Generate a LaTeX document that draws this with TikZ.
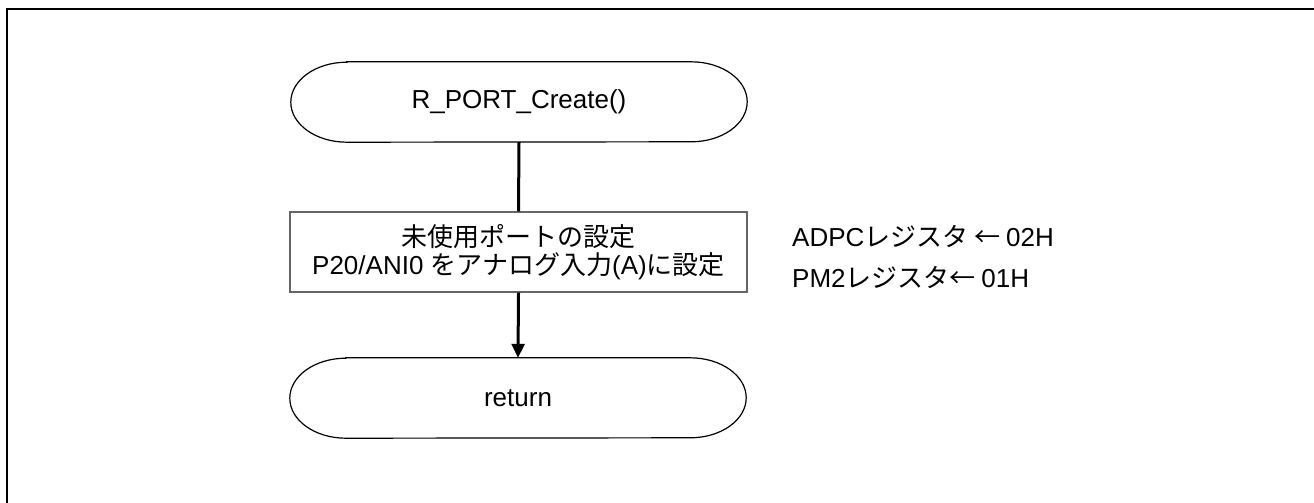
\documentclass[tikz,border=0pt]{standalone}
\usepackage{fontspec}
\setmainfont{Liberation Sans}
\newfontfamily\jp{Noto Sans CJK JP}
\usetikzlibrary{arrows.meta}

\tikzset{
  base/.style={font=\fontsize{26}{28}\selectfont, inner sep=0pt},
  termbox/.style={base, minimum width=456pt, minimum height=80pt},
  procbox/.style={base, draw=black!60, line width=1.4pt, fill=white,
    minimum width=457pt, minimum height=80pt, align=center},
  note/.style={base, anchor=base west},
  flow/.style={line width=3pt},
  flowarrow/.style={flow, -{Triangle[length=14pt,width=13pt]}},
  frame/.style={line width=2.5pt},
}

% stadium outline with half-ellipse ends around a named node
\newcommand{\terminal}[1]{%
  \draw[line width=1.2pt]
    ([xshift=56pt]#1.north west) -- ([xshift=-56pt]#1.north east)
    arc[start angle=90, end angle=-90, x radius=56pt, y radius=40pt]
    -- ([xshift=56pt]#1.south west)
    arc[start angle=270, end angle=90, x radius=56pt, y radius=40pt]
    -- cycle;}

\begin{document}
\begin{tikzpicture}[x=1pt, y=-1pt]
  \useasboundingbox (0,0) rectangle (1314,503);

  % outer frame (left and top edges)
  \draw[frame] (7,503) -- (7,9) -- (1314,9);

  % flow nodes
  \node[termbox] (start) at (519,102) {R\_PORT\_Create()};
  \terminal{start}

  \node[procbox] (init) at (518.5,252)
    {{\jp 未使用ポートの設定}\\P20/ANI0 {\jp をアナログ入力}(A){\jp に設定}};

  \node[termbox] (ret) at (518,398) {return};
  \terminal{ret}

  % connectors
  \draw[flow] (start.south) -- (init.north);
  \draw[flowarrow] (init.south) -- (ret.north);

  % register settings
  \node[note] (adpc) at (792,246) {ADPC{\jp レジスタ ← }02H};
  \node[note] (pm2) at (792,287) {PM2{\jp レジスタ← }01H};
\end{tikzpicture}
\end{document}
